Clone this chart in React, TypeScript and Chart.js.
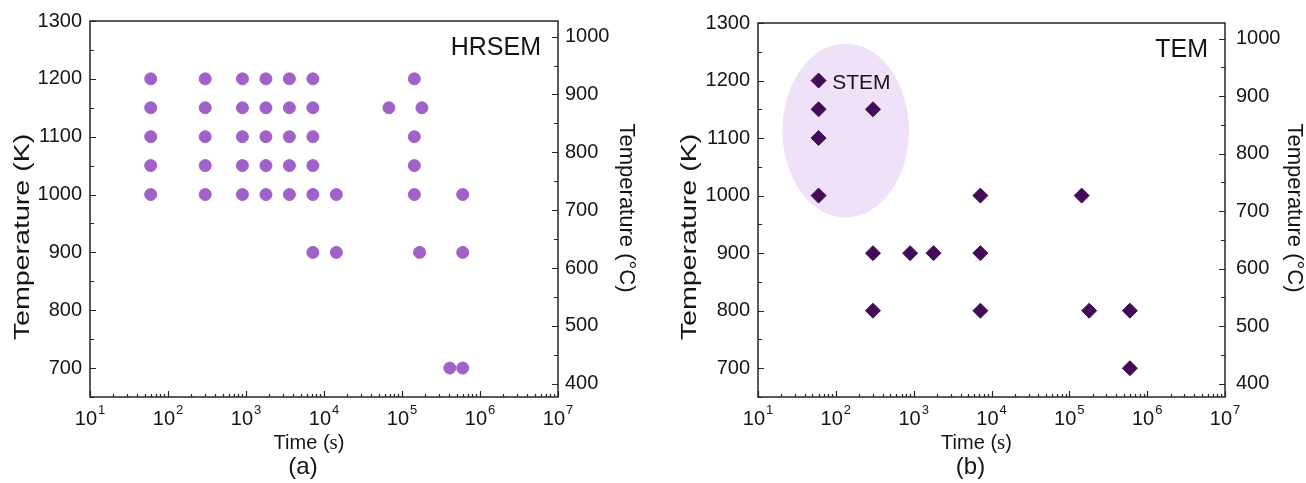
import React, { useEffect, useRef } from "react";
import { Chart, registerables } from "chart.js";

Chart.register(...registerables);

// ---------- data ----------
const timeTicks = [1e1, 1e2, 1e3, 1e4, 1e5, 1e6, 1e7];
const kelvinTicks = [700, 800, 900, 1000, 1100, 1200, 1300];
const kelvinMinor = [650, 750, 850, 950, 1050, 1150, 1250];
const celsiusTicks = [400, 500, 600, 700, 800, 900, 1000];
const celsiusMinor = [450, 550, 650, 750, 850, 950];
const K_MIN = 650;
const K_MAX = 1300;
const K_TO_C = 273;
const TIME_MIN = 10;
const TIME_MAX = 1e7;

// (a) HRSEM
const hrsemTime = [
  60, 60, 60, 60, 60,
  300, 300, 300, 300, 300,
  900, 900, 900, 900, 900,
  1800, 1800, 1800, 1800, 1800,
  3600, 3600, 3600, 3600, 3600,
  7200, 7200, 7200, 7200, 7200, 7200,
  14400, 14400,
  68000,
  144000, 144000, 144000, 144000,
  168000,
  180000,
  410000,
  600000, 600000, 600000,
];
const hrsemTemp = [
  1000, 1050, 1100, 1150, 1200,
  1000, 1050, 1100, 1150, 1200,
  1000, 1050, 1100, 1150, 1200,
  1000, 1050, 1100, 1150, 1200,
  1000, 1050, 1100, 1150, 1200,
  900, 1000, 1050, 1100, 1150, 1200,
  900, 1000,
  1150,
  1000, 1050, 1100, 1200,
  900,
  1150,
  700,
  700, 900, 1000,
];

// (b) TEM
const temTime = [60, 60, 60, 60, 300, 300, 300, 900, 1800, 7200, 7200, 7200, 144000, 180000, 600000, 600000];
const temTemp = [1000, 1100, 1150, 1200, 800, 900, 1150, 900, 900, 800, 900, 1000, 1000, 800, 700, 800];

// STEM region (time range s, temperature range K) and label anchor
const stemRegionTime = [20.6, 870];
const stemRegionTemp = [962, 1264];
const stemLabelTime = 90;
const stemLabelTemp = 1195;

// ---------- styling ----------
const TEXT = "#151515";
const AXIS = "#262626";
const SANS = '"Liberation Sans", Arial, Helvetica, sans-serif';
const SERIF = '"Liberation Serif", "Times New Roman", serif';
const f = (s: number, fam = SANS) => `${s}px ${fam}`;

const CANVAS_W = 653;
const CANVAS_H = 483;

type PanelCfg = {
  key: string;
  left: number;
  title: string;
  caption: string;
  time: number[];
  temp: number[];
  marker: string;
  color: string;
  radius: number;
  leftW: number;
  rightW: number;
  rightPad: number;
  leftTitleX: number;
  rightTitleX: number;
  ellipse: boolean;
};

const PANELS: PanelCfg[] = [
  {
    key: "a", left: 0, title: "HRSEM", caption: "(a)",
    time: hrsemTime, temp: hrsemTemp,
    marker: "circle", color: "#a062c9", radius: 6,
    leftW: 90, rightW: 95, rightPad: 7,
    leftTitleX: 23, rightTitleX: 626, ellipse: false,
  },
  {
    key: "b", left: 653, title: "TEM", caption: "(b)",
    time: temTime, temp: temTemp,
    marker: "rectRot", color: "#420c58", radius: 7.5,
    leftW: 105, rightW: 81, rightPad: 11,
    leftTitleX: 37, rightTitleX: 641, ellipse: true,
  },
];

const minorTimes: number[] = [];
for (let d = 10; d < TIME_MAX; d *= 10) for (let m = 2; m <= 9; m++) minorTimes.push(d * m);

function decorPlugin(cfg: PanelCfg) {
  return {
    id: "decor" + cfg.key,
    beforeDatasetsDraw(chart: any) {
      if (!cfg.ellipse) return;
      const { ctx } = chart;
      const xs = chart.scales.x;
      const ys = chart.scales.y;
      const x0 = xs.getPixelForValue(stemRegionTime[0]);
      const x1 = xs.getPixelForValue(stemRegionTime[1]);
      const y0 = ys.getPixelForValue(stemRegionTemp[0]);
      const y1 = ys.getPixelForValue(stemRegionTemp[1]);
      ctx.save();
      ctx.beginPath();
      ctx.ellipse((x0 + x1) / 2, (y0 + y1) / 2, Math.abs(x1 - x0) / 2, Math.abs(y1 - y0) / 2, 0, 0, Math.PI * 2);
      ctx.fillStyle = "#eee1f8";
      ctx.fill();
      ctx.restore();
    },
    afterDraw(chart: any) {
      const { ctx, chartArea: ca } = chart;
      const xs = chart.scales.x;
      const ys = chart.scales.y;
      const yc = chart.scales.y1;
      ctx.save();
      // frame
      ctx.strokeStyle = AXIS;
      ctx.lineWidth = 1.5;
      ctx.strokeRect(ca.left, ca.top, ca.right - ca.left, ca.bottom - ca.top);
      // ticks (inward)
      ctx.lineWidth = 1.2;
      ctx.beginPath();
      for (const v of kelvinTicks) {
        const p = Math.round(ys.getPixelForValue(v)) + 0.5;
        ctx.moveTo(ca.left, p); ctx.lineTo(ca.left + 6, p);
      }
      for (const v of kelvinMinor) {
        const p = Math.round(ys.getPixelForValue(v)) + 0.5;
        ctx.moveTo(ca.left, p); ctx.lineTo(ca.left + 4, p);
      }
      for (const v of celsiusTicks) {
        const p = Math.round(yc.getPixelForValue(v)) + 0.5;
        ctx.moveTo(ca.right, p); ctx.lineTo(ca.right - 6, p);
      }
      for (const v of celsiusMinor) {
        const p = Math.round(yc.getPixelForValue(v)) + 0.5;
        ctx.moveTo(ca.right, p); ctx.lineTo(ca.right - 4, p);
      }
      for (const v of timeTicks) {
        const p = Math.round(xs.getPixelForValue(v)) + 0.5;
        ctx.moveTo(p, ca.bottom); ctx.lineTo(p, ca.bottom - 6);
      }
      for (const v of minorTimes) {
        const p = Math.round(xs.getPixelForValue(v)) + 0.5;
        ctx.moveTo(p, ca.bottom); ctx.lineTo(p, ca.bottom - 3);
      }
      ctx.stroke();

      ctx.fillStyle = TEXT;
      // x tick labels 10^n
      ctx.textBaseline = "alphabetic";
      ctx.textAlign = "left";
      for (const v of timeTicks) {
        const px = xs.getPixelForValue(v);
        const e = String(Math.round(Math.log10(v)));
        ctx.font = f(20);
        const wb = ctx.measureText("10").width;
        ctx.font = f(13);
        const we = ctx.measureText(e).width;
        const sx = px - (wb + we + 1) / 2;
        ctx.font = f(20);
        ctx.fillText("10", sx, 425);
        ctx.font = f(13);
        ctx.fillText(e, sx + wb + 1, 414);
      }
      // x title: Time (s)
      const midX = (ca.left + ca.right) / 2;
      ctx.font = f(20);
      const p1 = "Time (";
      const w1 = ctx.measureText(p1).width;
      ctx.font = f(21, SERIF);
      const w2 = ctx.measureText("s").width;
      ctx.font = f(20);
      const w3 = ctx.measureText(")").width;
      const tx = midX - 15 - (w1 + w2 + w3) / 2;
      ctx.fillText(p1, tx, 449);
      ctx.font = f(21, SERIF);
      ctx.fillText("s", tx + w1, 449);
      ctx.font = f(20);
      ctx.fillText(")", tx + w1 + w2, 449);
      // caption
      ctx.font = f(24);
      ctx.textAlign = "center";
      ctx.fillText(cfg.caption, midX - 21, 474);

      // y titles
      ctx.textBaseline = "middle";
      ctx.save();
      ctx.translate(cfg.leftTitleX, 237);
      ctx.rotate(-Math.PI / 2);
      ctx.scale(1.3, 1);
      ctx.font = f(22);
      ctx.fillText("Temperature (K)", 0, 0);
      ctx.restore();
      ctx.save();
      ctx.translate(cfg.rightTitleX, 208);
      ctx.rotate(Math.PI / 2);
      ctx.font = f(22);
      ctx.fillText("Temperature (\u00B0C)", 0, 0);
      ctx.restore();

      // panel label
      ctx.font = f(25);
      ctx.textAlign = "right";
      ctx.fillText(cfg.title, ca.right - 17, ca.top + 27);

      // STEM label
      if (cfg.ellipse) {
        ctx.font = f(21);
        ctx.textAlign = "left";
        ctx.fillText("STEM", xs.getPixelForValue(stemLabelTime), ys.getPixelForValue(stemLabelTemp));
      }
      ctx.restore();
    },
  };
}

function Panel({ cfg }: { cfg: PanelCfg }) {
  const ref = useRef<HTMLCanvasElement>(null);
  useEffect(() => {
    const canvas = ref.current;
    if (!canvas) return;
    const points = cfg.time.map((t, i) => ({ x: t, y: cfg.temp[i] }));
    const tickFont = { family: SANS, size: 20 };
    const plain = (v: any) => String(v);
    const chart = new Chart(canvas, {
      type: "scatter",
      data: {
        datasets: [
          {
            label: cfg.title,
            data: points,
            pointStyle: cfg.marker as any,
            pointRadius: cfg.radius,
            pointBackgroundColor: cfg.color,
            pointBorderColor: cfg.color,
            pointBorderWidth: 1,
          },
        ],
      },
      options: {
        responsive: false,
        animation: false,
        devicePixelRatio: 1,
        layout: { padding: { left: 0, right: 0, top: 21, bottom: 0 } },
        plugins: { legend: { display: false }, tooltip: { enabled: false } },
        scales: {
          x: {
            type: "logarithmic",
            position: "bottom",
            min: TIME_MIN,
            max: TIME_MAX,
            grid: { display: false },
            border: { display: false },
            ticks: { display: false },
            afterBuildTicks: (s: any) => { s.ticks = timeTicks.map((v) => ({ value: v })); },
            afterFit: (s: any) => { s.height = 86; },
          },
          y: {
            type: "linear",
            position: "left",
            min: K_MIN,
            max: K_MAX,
            grid: { display: false, drawTicks: false },
            border: { display: false },
            ticks: { font: tickFont, color: TEXT, padding: 8, callback: plain },
            afterBuildTicks: (s: any) => { s.ticks = kelvinTicks.map((v) => ({ value: v })); },
            afterFit: (s: any) => { s.width = cfg.leftW; },
          },
          y1: {
            type: "linear",
            position: "right",
            min: K_MIN - K_TO_C,
            max: K_MAX - K_TO_C,
            grid: { display: false, drawTicks: false },
            border: { display: false },
            ticks: { font: tickFont, color: TEXT, padding: cfg.rightPad, callback: plain },
            afterBuildTicks: (s: any) => { s.ticks = celsiusTicks.map((v) => ({ value: v })); },
            afterFit: (s: any) => { s.width = cfg.rightW; },
          },
        },
      } as any,
      plugins: [decorPlugin(cfg)],
    });
    return () => chart.destroy();
  }, [cfg]);
  return (
    <canvas
      ref={ref}
      width={CANVAS_W}
      height={CANVAS_H}
      style={{ position: "absolute", left: cfg.left, top: 0, width: CANVAS_W, height: CANVAS_H, display: "block" }}
    />
  );
}

export default function App() {
  return (
    <div style={{ position: "fixed", left: 0, top: 0, width: 1306, height: 483, background: "#ffffff", overflow: "hidden" }}>
      {PANELS.map((p) => (
        <Panel key={p.key} cfg={p} />
      ))}
    </div>
  );
}
